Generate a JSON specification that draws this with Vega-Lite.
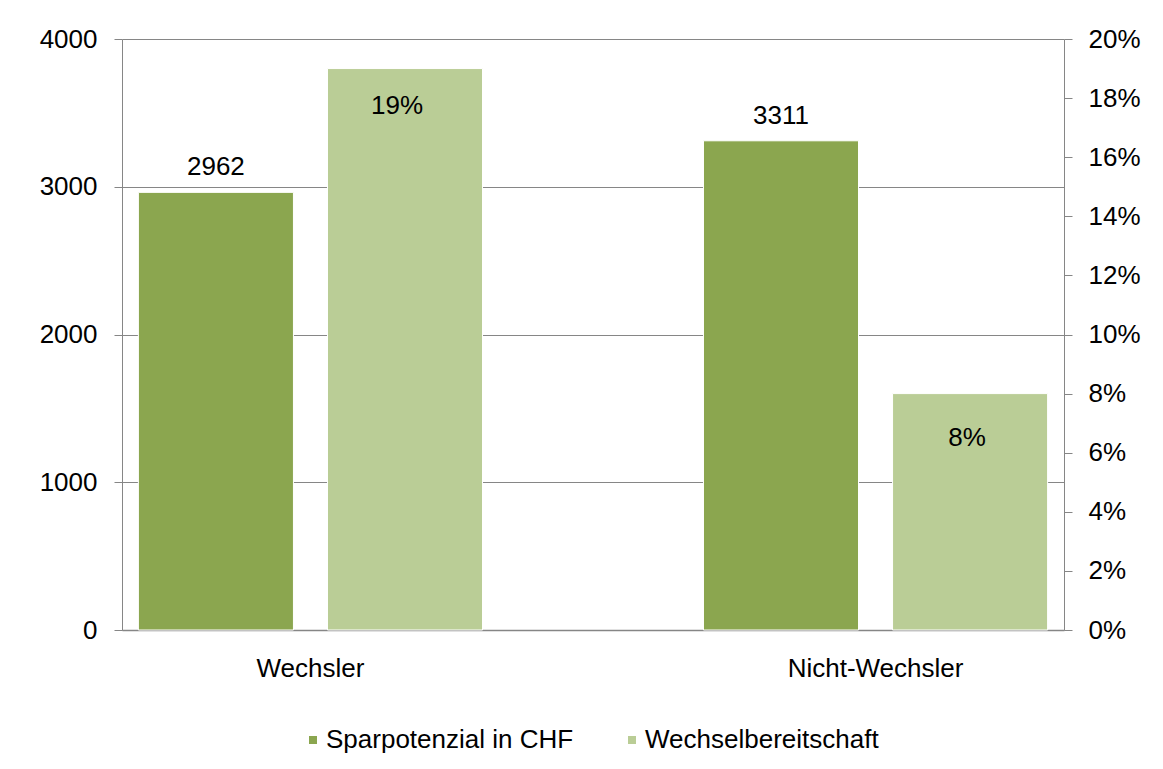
{
  "$schema": "https://vega.github.io/schema/vega-lite/v6.json",
  "width": 942,
  "height": 591,
  "autosize": {"type": "none"},
  "padding": {"left": 122, "top": 39, "right": 99, "bottom": 139},
  "background": "white",
  "config": {
    "view": {"stroke": null},
    "font": "Liberation Sans",
    "axis": {
      "labelFont": "Liberation Sans",
      "labelFontSize": 26,
      "labelColor": "black",
      "domainColor": "#868686",
      "tickColor": "#868686",
      "gridColor": "#868686",
      "title": null
    },
    "legend": {
      "labelFont": "Liberation Sans",
      "labelFontSize": 26,
      "labelColor": "black",
      "labelLimit": 0
    }
  },
  "data": {
    "values": [
      {"gruppe": "Wechsler", "serie": "Sparpotenzial in CHF", "wert": 2962},
      {"gruppe": "Wechsler", "serie": "Wechselbereitschaft", "wert": 0.19},
      {"gruppe": "Nicht-Wechsler", "serie": "Sparpotenzial in CHF", "wert": 3311},
      {"gruppe": "Nicht-Wechsler", "serie": "Wechselbereitschaft", "wert": 0.08}
    ]
  },
  "encoding": {
    "x": {
      "field": "gruppe",
      "type": "nominal",
      "sort": ["Wechsler", "Nicht-Wechsler"],
      "scale": {"domain": ["Wechsler", "Nicht-Wechsler"], "paddingInner": 0.391, "paddingOuter": 0.029},
      "axis": {"labelAngle": 0, "ticks": false, "labelPadding": 25, "domainWidth": 1.5}
    },
    "xOffset": {
      "field": "serie",
      "type": "nominal",
      "scale": {"domain": ["Sparpotenzial in CHF", "Wechselbereitschaft"], "paddingInner": 0.18, "paddingOuter": 0}
    }
  },
  "layer": [
    {
      "transform": [{"filter": "datum.serie === 'Sparpotenzial in CHF'"}],
      "encoding": {
        "y": {
          "field": "wert",
          "type": "quantitative",
          "scale": {"domain": [0, 4000], "nice": false},
          "axis": {"orient": "left", "values": [0, 1000, 2000, 3000, 4000], "grid": true, "tickSize": 8, "labelPadding": 17, "format": "d"}
        }
      },
      "layer": [
        {
          "mark": {"type": "bar", "stroke": "white", "strokeWidth": 1},
          "encoding": {
            "color": {
              "field": "serie",
              "type": "nominal",
              "scale": {"domain": ["Sparpotenzial in CHF", "Wechselbereitschaft"], "range": ["#8BA64F", "#BACD96"]},
              "legend": {
                "title": null,
                "orient": "none",
                "direction": "horizontal",
                "legendX": 178,
                "legendY": 688,
                "symbolType": "square",
                "symbolSize": 90,
                "labelOffset": 0,
                "columnPadding": 45,
                "padding": 0
              }
            }
          }
        },
        {
          "mark": {"type": "text", "baseline": "alphabetic", "dy": -17, "fontSize": 26, "color": "black", "font": "Liberation Sans"},
          "encoding": {"text": {"field": "wert", "type": "quantitative", "format": "d"}}
        }
      ]
    },
    {
      "transform": [{"filter": "datum.serie === 'Wechselbereitschaft'"}],
      "encoding": {
        "y": {
          "field": "wert",
          "type": "quantitative",
          "scale": {"domain": [0, 0.2], "nice": false},
          "axis": {"orient": "right", "values": [0, 0.02, 0.04, 0.06, 0.08, 0.1, 0.12, 0.14, 0.16, 0.18, 0.2], "format": ".0%", "grid": false, "tickSize": 8, "labelPadding": 16}
        }
      },
      "layer": [
        {
          "mark": {"type": "bar", "stroke": "white", "strokeWidth": 1},
          "encoding": {
            "color": {"field": "serie", "type": "nominal"}
          }
        },
        {
          "transform": [{"filter": "datum.gruppe === 'Wechsler'"}],
          "mark": {"type": "text", "baseline": "alphabetic", "dy": 45, "dx": -8, "fontSize": 26, "color": "black", "font": "Liberation Sans"},
          "encoding": {"text": {"field": "wert", "type": "quantitative", "format": ".0%"}}
        },
        {
          "transform": [{"filter": "datum.gruppe === 'Nicht-Wechsler'"}],
          "mark": {"type": "text", "baseline": "alphabetic", "dy": 52, "dx": -3, "fontSize": 26, "color": "black", "font": "Liberation Sans"},
          "encoding": {"text": {"field": "wert", "type": "quantitative", "format": ".0%"}}
        }
      ]
    }
  ],
  "resolve": {"scale": {"y": "independent"}}
}
